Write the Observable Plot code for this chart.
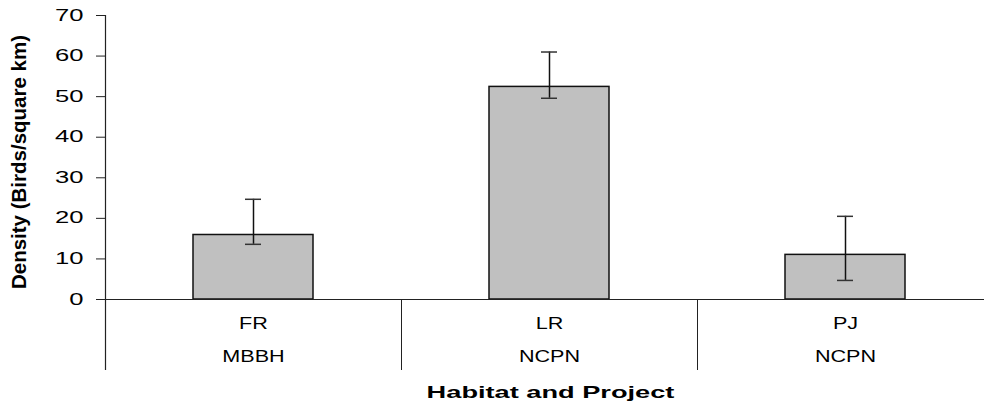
<!DOCTYPE html>
<html>
<head>
<meta charset="utf-8">
<script src="https://cdn.jsdelivr.net/npm/d3@7"></script>
<script src="https://cdn.jsdelivr.net/npm/@observablehq/plot@0.6"></script>
<style>
  html, body { margin: 0; padding: 0; background: #fff; }
  svg { overflow: visible; }
</style>
</head>
<body>
<div id="chart"></div>
<script>
const habitats = ["FR", "LR", "PJ"];
const projects = ["MBBH", "NCPN", "NCPN"];
const density = [15.9, 52.4, 11.0];
const lower = [13.6, 49.6, 4.7];
const upper = [24.7, 61.0, 20.5];
const yTicks = [0, 10, 20, 30, 40, 50, 60, 70];
const yTitle = "Density (Birds/square km)";
const xTitle = "Habitat and Project";

const data = habitats.map((h, i) => ({cat: h, project: projects[i], value: density[i], lo: lower[i], hi: upper[i]}));

const font = "'Liberation Sans', Arial, Helvetica, sans-serif";

const chart = Plot.plot({
  width: 984,
  height: 404,
  marginLeft: 105,
  marginRight: 0,
  marginTop: 15,
  marginBottom: 34,
  style: {fontFamily: font, background: "#fff", color: "#000"},
  x: {domain: habitats, range: [104.5, 992.5], padding: 0, axis: null},
  y: {domain: [0, 70], range: [299, 15], axis: null},
  marks: [
    Plot.barY(data, {x: "cat", y: "value", fill: "#c0c0c0", stroke: "#111", strokeWidth: 1.5, insetLeft: 88, insetRight: 88}),
    Plot.ruleX(data, {x: "cat", y1: "lo", y2: "hi", stroke: "#111", strokeWidth: 1.5}),
    Plot.tickY(data, {x: "cat", y: "lo", stroke: "#333", strokeWidth: 1.5, insetLeft: 140, insetRight: 140}),
    Plot.tickY(data, {x: "cat", y: "hi", stroke: "#333", strokeWidth: 1.5, insetLeft: 140, insetRight: 140}),
    Plot.ruleY([0], {stroke: "#222", strokeWidth: 1.2}),
    // y axis line
    Plot.ruleX(data.slice(0, 1), {x: "cat", dx: -148, stroke: "#222", strokeWidth: 1.2}),
    // category dividers
    Plot.ruleX(data.slice(1), {x: "cat", dx: -148, stroke: "#222", strokeWidth: 1, insetTop: 284}),
    Plot.ruleX(data.slice(2), {x: "cat", dx: 148, stroke: "#222", strokeWidth: 1, insetTop: 284}),
    Plot.axisY({ticks: yTicks, tickSize: 9, tickPadding: 13, fontSize: 16, tickFormat: d => String(d), stroke: "#222"}),
    Plot.text(data, {x: "cat", y: 0, text: "cat", dy: 24, fontSize: 16, fill: "#000"}),
    Plot.text(data, {x: "cat", y: 0, text: "project", dy: 57.5, fontSize: 16, fill: "#000"}),
    Plot.text([yTitle], {text: d => d, frameAnchor: "left", textAnchor: "middle", rotate: -90, dx: -86, dy: -31, fontSize: 20.5, fontWeight: "bold", fill: "#000"}),
    Plot.text([xTitle], {text: d => d, frameAnchor: "bottom", dx: 5.5, dy: 27, fontSize: 17, fontWeight: "bold", fill: "#000"})
  ]
});
document.getElementById("chart").appendChild(chart);

// horizontal stretch of text, as in the reference
const tickSet = new Set(yTicks.map(String));
const catSet = new Set([...habitats, ...projects]);
chart.querySelectorAll("text").forEach(el => {
  const s0 = el.textContent.trim();
  let s = null;
  if (tickSet.has(s0)) s = 1.6;
  else if (catSet.has(s0)) s = 1.35;
  else if (s0 === xTitle) s = 1.6;
  if (s === null) return;
  const x = el.getAttribute("x");
  const t = el.getAttribute("transform") || "";
  if (x !== null) el.removeAttribute("x");
  el.setAttribute("transform", `${t} translate(${x || 0},0) scale(${s},1)`);
});
</script>
</body>
</html>
